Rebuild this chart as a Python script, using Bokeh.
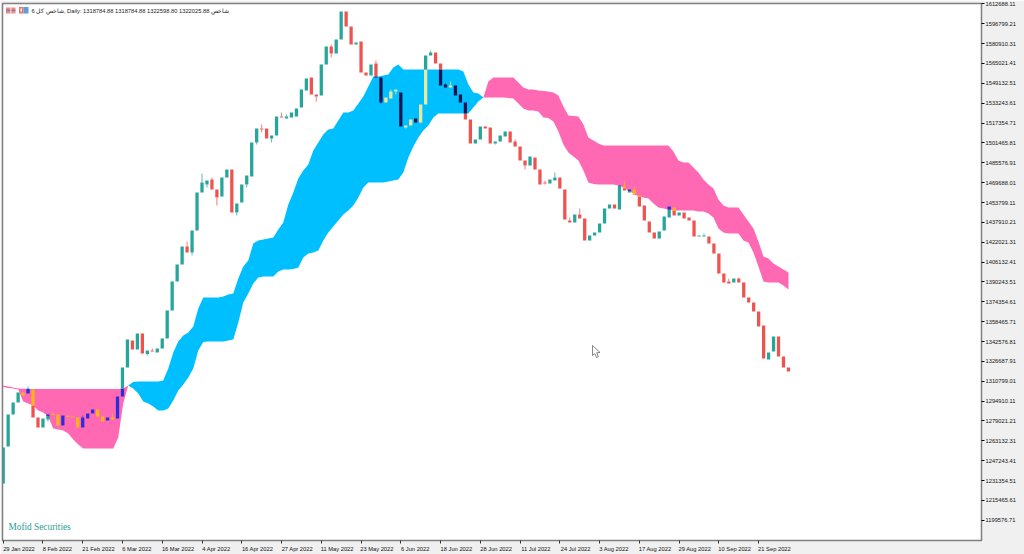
import numpy as np
from bokeh.plotting import figure
from bokeh.models import Range1d, FixedTicker, Label, BoxAnnotation
from bokeh.embed import file_html
from bokeh.resources import INLINE

# Prices, in thousands
opens = [1229.0,1258.6,1284.2,1293.8,1301.8,1301.0,1304.2,1281.8,1273.8,1280.2,1284.6,1284.2,1275.4,1283.4,1282.6,1281.8,1273.8,1281.0,1285.0,1288.2,
1282.6,1279.4,1281.8,1281.0,1298.6,1321.8,1343.4,1336.2,1349.0,1332.6,1335.4,1333.8,1337.0,1345.0,1367.4,1390.6,1404.2,1418.6,1413.8,1431.4,
1461.8,1468.2,1472.2,1464.2,1458.6,1473.8,1480.2,1445.8,1453.8,1468.2,1474.6,1501.8,1513.0,1513.0,1505.0,1507.4,1522.6,1521.0,1521.8,1522.6,
1529.8,1543.4,1553.8,1540.2,1539.4,1564.2,1578.6,1573.0,1584.2,1606.6,1594.6,1580.2,1582.6,1557.8,1555.4,1565.0,1553.8,1533.8,1537.0,1542.6,
1541.8,1513.8,1515.4,1521.0,1517.8,1532.2,1571.4,1573.8,1565.0,1548.2,1545.8,1547.4,1540.2,1533.8,1520.2,1501.0,1504.2,1514.6,1513.8,1501.0,
1502.6,1506.6,1510.6,1502.6,1498.6,1487.4,1483.4,1489.8,1480.2,1469.8,1469.0,1471.4,1473.8,1464.2,1439.4,1437.8,1444.2,1441.0,1423.4,1427.4,
1429.8,1437.0,1449.0,1452.2,1448.2,1466.6,1461.8,1464.2,1459.4,1451.4,1438.6,1429.8,1425.0,1431.4,1441.8,1449.8,1443.4,1445.8,1441.8,1439.4,
1426.6,1426.6,1426.6,1421.0,1413.0,1397.0,1390.6,1389.8,1393.0,1389.8,1377.8,1373.8,1366.6,1355.4,1328.2,1334.6,1346.6,1330.6,1321.8]
closes = [1257.8,1284.2,1293.8,1301.8,1299.4,1305.0,1281.8,1273.8,1281.0,1284.2,1283.8,1275.4,1283.4,1282.2,1281.8,1273.8,1281.8,1285.0,1288.2,1282.6,
1278.6,1281.8,1280.2,1298.6,1321.8,1344.2,1336.2,1349.0,1333.0,1335.4,1334.6,1337.0,1345.0,1367.4,1390.6,1404.2,1418.6,1413.8,1431.4,1461.8,
1469.8,1471.4,1464.2,1457.8,1473.8,1480.2,1445.8,1453.0,1468.2,1475.4,1501.8,1513.0,1512.2,1505.0,1507.4,1522.6,1521.8,1522.6,1525.8,1529.0,
1544.2,1553.0,1540.2,1538.6,1564.2,1578.6,1573.0,1584.2,1606.6,1594.6,1580.2,1581.8,1557.8,1555.4,1564.2,1553.8,1533.8,1537.8,1542.6,1544.2,
1514.6,1515.4,1520.2,1517.8,1532.2,1571.4,1573.8,1565.0,1547.4,1545.8,1547.4,1539.4,1533.8,1520.2,1501.0,1504.2,1514.6,1513.0,1501.0,1502.6,
1507.4,1510.6,1501.8,1498.6,1487.4,1483.4,1490.6,1480.2,1468.2,1469.0,1472.2,1473.8,1465.0,1440.2,1437.8,1444.2,1441.0,1423.4,1427.4,1429.8,
1437.0,1449.0,1452.2,1449.0,1467.4,1463.4,1464.2,1460.2,1450.6,1439.4,1429.8,1425.0,1430.6,1442.6,1450.6,1443.4,1445.8,1441.0,1439.4,1426.6,
1427.4,1427.4,1421.0,1413.0,1397.0,1389.8,1389.0,1393.0,1389.8,1377.8,1373.8,1366.6,1354.6,1329.0,1333.8,1346.6,1330.6,1321.8,1318.6]
wick_high = {5:1306.6,10:1285.8,16:1283.4,22:1285.0,30:1337.0,37:1422.6,40:1477.0,42:1473.8,52:1516.2,56:1525.8,57:1524.2,66:1580.2,75:1567.4,
78:1544.2,86:1575.4,89:1549.0,90:1550.6,103:1504.2,109:1471.4,111:1477.8,114:1441.8,116:1449.0,125:1470.6,127:1466.6,141:1429.0,146:1393.0,148:1393.8}
wick_low = {9:1278.6,29:1331.4,38:1411.4,41:1465.8,43:1451.4,47:1443.4,49:1465.8,51:1500.2,52:1509.8,54:1501.8,63:1534.6,66:1569.8,76:1533.0,
79:1540.2,81:1513.0,84:1517.0,99:1500.2,105:1480.2,109:1468.2}

cloud_top = [1307.4,1306.6,1305.8,1305.0,1304.8,1304.6,1304.6,1304.6,1304.6,1304.6,1304.6,1304.6,1304.6,1304.6,1304.6,1304.6,1304.6,1304.6,1304.6,1304.6,
1304.6,1304.6,1304.6,1304.6,1305.0,1307.4,1310.2,1310.6,1310.6,1310.6,1310.6,1310.6,1311.4,1321.0,1333.8,1342.6,1347.4,1349.8,1354.6,1369.0,
1377.8,1377.8,1377.8,1377.8,1378.6,1380.2,1381.0,1393.0,1402.6,1407.4,1421.0,1423.4,1424.2,1425.0,1425.8,1432.2,1437.8,1452.2,1461.8,1473.0,
1479.4,1484.2,1495.4,1501.8,1508.2,1512.2,1513.0,1519.4,1525.8,1525.8,1527.4,1533.0,1538.6,1546.6,1554.6,1554.6,1555.4,1556.2,1561.8,1564.2,
1560.2,1560.2,1560.2,1560.2,1560.2,1560.2,1560.2,1560.2,1560.2,1560.2,1560.2,1560.2,1558.6,1548.2,1541.8,1541.0,1537.8,1550.6,1553.8,1553.8,
1553.8,1553.8,1553.8,1549.8,1545.8,1544.2,1544.2,1543.4,1543.0,1542.6,1541.8,1539.4,1530.6,1523.4,1523.0,1522.6,1516.2,1505.8,1503.4,1501.0,
1499.4,1499.4,1499.4,1499.4,1499.4,1499.4,1499.4,1499.4,1499.4,1499.4,1499.4,1499.4,1499.4,1499.4,1494.6,1487.4,1485.8,1485.8,1481.8,1477.8,
1472.2,1468.2,1465.0,1456.2,1451.4,1449.8,1449.8,1449.8,1444.2,1438.6,1433.0,1422.6,1410.6,1409.0,1405.0,1402.6,1400.2,1397.8]
cloud_bot = [1306.2,1305.4,1305.0,1304.2,1294.6,1293.0,1291.4,1287.4,1285.8,1282.6,1273.0,1272.2,1271.4,1269.0,1264.2,1260.2,1257.0,1257.0,1257.0,1257.0,
1257.0,1257.0,1257.0,1265.8,1293.0,1307.4,1305.0,1301.0,1294.6,1293.0,1290.6,1287.4,1287.4,1289.0,1295.4,1303.4,1308.2,1313.8,1321.0,1335.4,
1342.2,1342.6,1342.6,1342.6,1342.6,1343.4,1344.2,1357.8,1373.8,1381.0,1389.0,1393.8,1394.6,1394.6,1394.6,1398.6,1400.2,1400.2,1400.6,1401.8,
1409.8,1413.0,1413.8,1415.4,1423.4,1429.8,1434.6,1439.4,1444.2,1447.4,1451.4,1457.8,1465.8,1469.8,1469.8,1469.8,1469.8,1470.6,1471.4,1472.2,
1477.8,1489.8,1498.6,1505.8,1511.4,1515.4,1521.8,1525.0,1525.0,1525.0,1525.0,1525.0,1525.0,1525.0,1529.8,1534.6,1537.8,1537.8,1537.8,1537.8,
1537.8,1537.4,1537.0,1533.0,1529.0,1527.4,1527.4,1526.6,1521.8,1521.4,1518.6,1510.6,1500.2,1493.8,1490.6,1487.4,1479.4,1469.8,1468.6,1468.2,
1468.2,1468.2,1468.2,1467.4,1465.8,1463.4,1461.0,1458.6,1457.8,1457.0,1453.0,1449.8,1449.0,1448.2,1447.4,1447.4,1447.4,1447.4,1447.4,1446.6,
1446.6,1445.0,1441.8,1433.0,1429.8,1429.0,1429.0,1429.0,1423.4,1421.8,1413.8,1402.6,1390.6,1389.8,1389.8,1389.8,1387.4,1384.2]
blue_start, blue_end = 25, 96   # cloud samples where the blue stretch starts and ends

x_tick_labels = ["29 Jan 2022","8 Feb 2022","21 Feb 2022","6 Mar 2022","16 Mar 2022","4 Apr 2022","16 Apr 2022","27 Apr 2022","11 May 2022","23 May 2022",
"6 Jun 2022","18 Jun 2022","28 Jun 2022","11 Jul 2022","24 Jul 2022","3 Aug 2022","17 Aug 2022","29 Aug 2022","10 Sep 2022","21 Sep 2022"]
y_tick_labels = ["1612688.11","1596799.21","1580910.31","1565021.41","1549132.51","1533243.61","1517354.71","1501465.81","1485576.91","1469688.01",
"1453799.11","1437910.21","1422021.31","1406132.41","1390243.51","1374354.61","1358465.71","1342576.81","1326687.91","1310799.01",
"1294910.11","1279021.21","1263132.31","1247243.41","1231354.51","1215465.61","1199576.71"]

GREEN, RED = "#26a69a", "#ef5350"
IN_PINK = {GREEN: "#2c2cd8", RED: "#fdb515"}
IN_BLUE = {GREEN: "#e9e9a0", RED: "#0b1450"}
PINK, BLUE = "#ff69b4", "#00bfff"
FONT_SIZE = "5.75px"

# helpers to place furniture (header, logo, pointer) using window pixels
X0, XPX = 2.7, 4.97
def bx(px): return (px - X0) / XPX
def by(px): return (1615.4 - 0.8 * px) * 1000

p = figure(width=1024, height=554, output_backend="svg", toolbar_location=None,
           x_range=Range1d(bx(2), bx(981)), y_range=Range1d(by(540), by(3)),
           y_axis_location="right", min_border_left=2, min_border_right=43,
           min_border_top=3, min_border_bottom=14,
           background_fill_color="white", border_fill_color="#f0f0f0",
           outline_line_color="#808080", outline_line_width=1.5)
p.grid.visible = False

ctop = np.array(cloud_top) * 1000
cbot = np.array(cloud_bot) * 1000
cx = np.arange(len(ctop)) * (len(opens) - 1) / (len(ctop) - 1)

for a, b, col in [(0, blue_start + 1, PINK), (blue_start, blue_end + 1, BLUE), (blue_end, len(ctop), PINK)]:
    p.varea(cx[a:b], ctop[a:b], cbot[a:b], fill_color=col)

bx0, by0, by1, bc = [], [], [], []
wx, wy0, wy1, wc = [], [], [], []

def pieces(i, lo, hi, base):
    t = np.interp(i, cx, ctop)
    b = np.interp(i, cx, cbot)
    inner = IN_BLUE if cx[blue_start] <= i <= cx[blue_end] else IN_PINK
    out = []
    a0, a1 = max(lo, b), min(hi, t)
    if a1 > a0:
        if lo < a0: out.append((lo, a0, base))
        out.append((a0, a1, inner[base]))
        if hi > a1: out.append((a1, hi, base))
    else:
        out.append((lo, hi, base))
    return out

for i, (o, c) in enumerate(zip(opens, closes)):
    base = GREEN if c >= o else RED
    o_, c_ = o * 1000, c * 1000
    for lo, hi, col in pieces(i, min(o_, c_), max(o_, c_), base):
        bx0.append(i); by0.append(lo); by1.append(hi); bc.append(col)
    if i in wick_high:
        for lo, hi, col in pieces(i, max(o_, c_), wick_high[i] * 1000, base):
            wx.append(i); wy0.append(lo); wy1.append(hi); wc.append(col)
    if i in wick_low:
        for lo, hi, col in pieces(i, wick_low[i] * 1000, min(o_, c_), base):
            wx.append(i); wy0.append(lo); wy1.append(hi); wc.append(col)

p.segment(wx, wy0, wx, wy1, line_color=wc, line_width=1, line_alpha=0.75)
p.vbar(x=bx0, width=0.66, bottom=by0, top=by1, fill_color=bc, line_color=None)

# axes: tick marks are the minor ticks; the (centred) labels sit half a label further right,
# so that each date starts at its tick as in the reference
xa = p.xaxis[0]
x_ticks = [8 * k for k in range(len(x_tick_labels))]
label_at = [round(t + (len(s) * 2.78 / 2 + 0.5) / XPX, 3) for t, s in zip(x_ticks, x_tick_labels)]
xa.ticker = FixedTicker(ticks=label_at, minor_ticks=x_ticks)
xa.major_label_overrides = {t: s for t, s in zip(label_at, x_tick_labels)}
xa.major_label_text_font = "Liberation Sans"
xa.major_label_text_font_size = FONT_SIZE
xa.major_label_text_color = "#111111"
xa.major_label_standoff = 2
xa.major_tick_in = 0; xa.major_tick_out = 0
xa.major_tick_line_color = None
xa.minor_tick_in = 0; xa.minor_tick_out = 3
xa.minor_tick_line_color = "#333333"
xa.axis_line_color = "#808080"

ya = p.yaxis[0]
yt = [float(s) for s in y_tick_labels]
ya.ticker = FixedTicker(ticks=yt)
ya.major_label_overrides = {v: s for v, s in zip(yt, y_tick_labels)}
ya.major_label_text_font = "Liberation Sans"
ya.major_label_text_font_size = FONT_SIZE
ya.major_label_text_color = "#111111"
ya.major_label_standoff = 1
ya.major_tick_in = 0; ya.major_tick_out = 3
ya.minor_tick_line_color = None
ya.axis_line_color = "#808080"

# header
p.add_layout(Label(x=bx(31), y=by(10), text="شاخص کل 6, Daily:  1318784.88 1318784.88 1322598.80 1322025.88   شاخص",
                   text_font="Liberation Sans", text_font_size=FONT_SIZE, text_color="#222222", text_baseline="middle"))
# icons
def box(l, t, r, b, col):
    p.add_layout(BoxAnnotation(left=bx(l), right=bx(r), top=by(t), bottom=by(b), fill_color=col, fill_alpha=1, line_color=None))
box(5.5, 7, 15, 13, "#f08a80"); box(5.5, 9.3, 15, 10.2, "#4a78c8"); box(10, 7, 10.8, 13, "#ffffff")
box(18.5, 6.5, 23, 13, "#f0706a"); box(23, 6.5, 28, 13, "#5aa0dc"); box(20, 8, 21.5, 11, "#ffffff")

p.add_layout(Label(x=bx(8), y=by(526.5), text="Mofid Securities", text_font="Liberation Serif",
                   text_font_size="9.3px", text_color="#2a9d97", text_baseline="middle"))

# mouse pointer
ptr_x = [592, 592, 594.3, 596, 597.8, 596.3, 599.5]
ptr_y = [345, 355, 353, 357, 356.2, 352.2, 352]
p.patch([bx(v) for v in ptr_x], [by(v) for v in ptr_y], fill_color="white", line_color="#555555", line_width=0.7)

html = file_html(p, INLINE)
open("out.html", "w").write(html)
